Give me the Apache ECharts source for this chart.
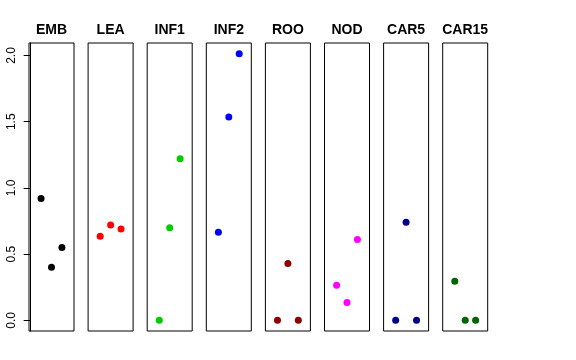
<!DOCTYPE html>
<html><head><meta charset="utf-8">
<script src="https://cdn.jsdelivr.net/npm/echarts@6/dist/echarts.min.js"></script>
<style>html,body{margin:0;padding:0;background:#fff}#c{width:576px;height:360px}</style>
</head><body><div id="c"></div>
<script>
// Panel names and colours
const panels = ["EMB","LEA","INF1","INF2","ROO","NOD","CAR5","CAR15"];
const colors = ["#000000","#FF0000","#00CD00","#0000FF","#8B0000","#FF00FF","#00008B","#006400"];
// x positions of the three points within each panel
const xPos = [1, 2, 3];
// values per panel
const EMB   = [0.92, 0.40, 0.55];
const LEA   = [0.635, 0.72, 0.69];
const INF1  = [0.0, 0.70, 1.22];
const INF2  = [0.665, 1.535, 2.014];
const ROO   = [0.0, 0.43, 0.0];
const NOD   = [0.265, 0.135, 0.61];
const CAR5  = [0.0, 0.74, 0.0];
const CAR15 = [0.295, 0.0, 0.0];
const yTicks = [0, 0.5, 1.0, 1.5, 2.0];

const values = [EMB, LEA, INF1, INF2, ROO, NOD, CAR5, CAR15];
const yMin = -0.0806, yMax = 2.0946;
const xMin = -0.16, xMax = 4.16;

const grid = [], xAxis = [], yAxis = [], series = [];
const L0 = 29, W = 45, P = 59.1, T = 43, H = 288;
panels.forEach((name, i) => {
  const left = L0 + i * P;
  grid.push({left: left, top: T, width: W, height: H, show: true,
    borderColor: '#000', borderWidth: 1, backgroundColor: 'transparent'});
  xAxis.push({gridIndex: i, type: 'value', min: xMin, max: xMax, position: 'top',
    axisLine: {show: false}, axisTick: {show: false}, axisLabel: {show: false},
    splitLine: {show: false},
    name: name, nameLocation: 'middle', nameGap: 6,
    nameTextStyle: {fontFamily: 'Liberation Sans', fontWeight: 'bold', fontSize: 14, color: '#000'}});
  yAxis.push({gridIndex: i, type: 'value', min: yMin, max: yMax,
    show: i === 0,
    splitLine: {show: false},
    axisLine: {show: i === 0, lineStyle: {color: '#000'}},
    axisTick: {show: true, length: 7, lineStyle: {color: '#000'}, customValues: yTicks},
    axisLabel: {show: true, rotate: 90, margin: 11, fontFamily: 'Liberation Sans', fontSize: 12,
      color: '#000', customValues: yTicks, formatter: v => v.toFixed(1)}
  });
  series.push({type: 'scatter', xAxisIndex: i, yAxisIndex: i, symbolSize: 7,
    itemStyle: {color: colors[i], opacity: 1},
    data: xPos.map((x, k) => [x, values[i][k]])});
});

const chart = echarts.init(document.getElementById('c'), null, {renderer: 'canvas'});
chart.setOption({animation: false, grid, xAxis, yAxis, series});
</script></body></html>
